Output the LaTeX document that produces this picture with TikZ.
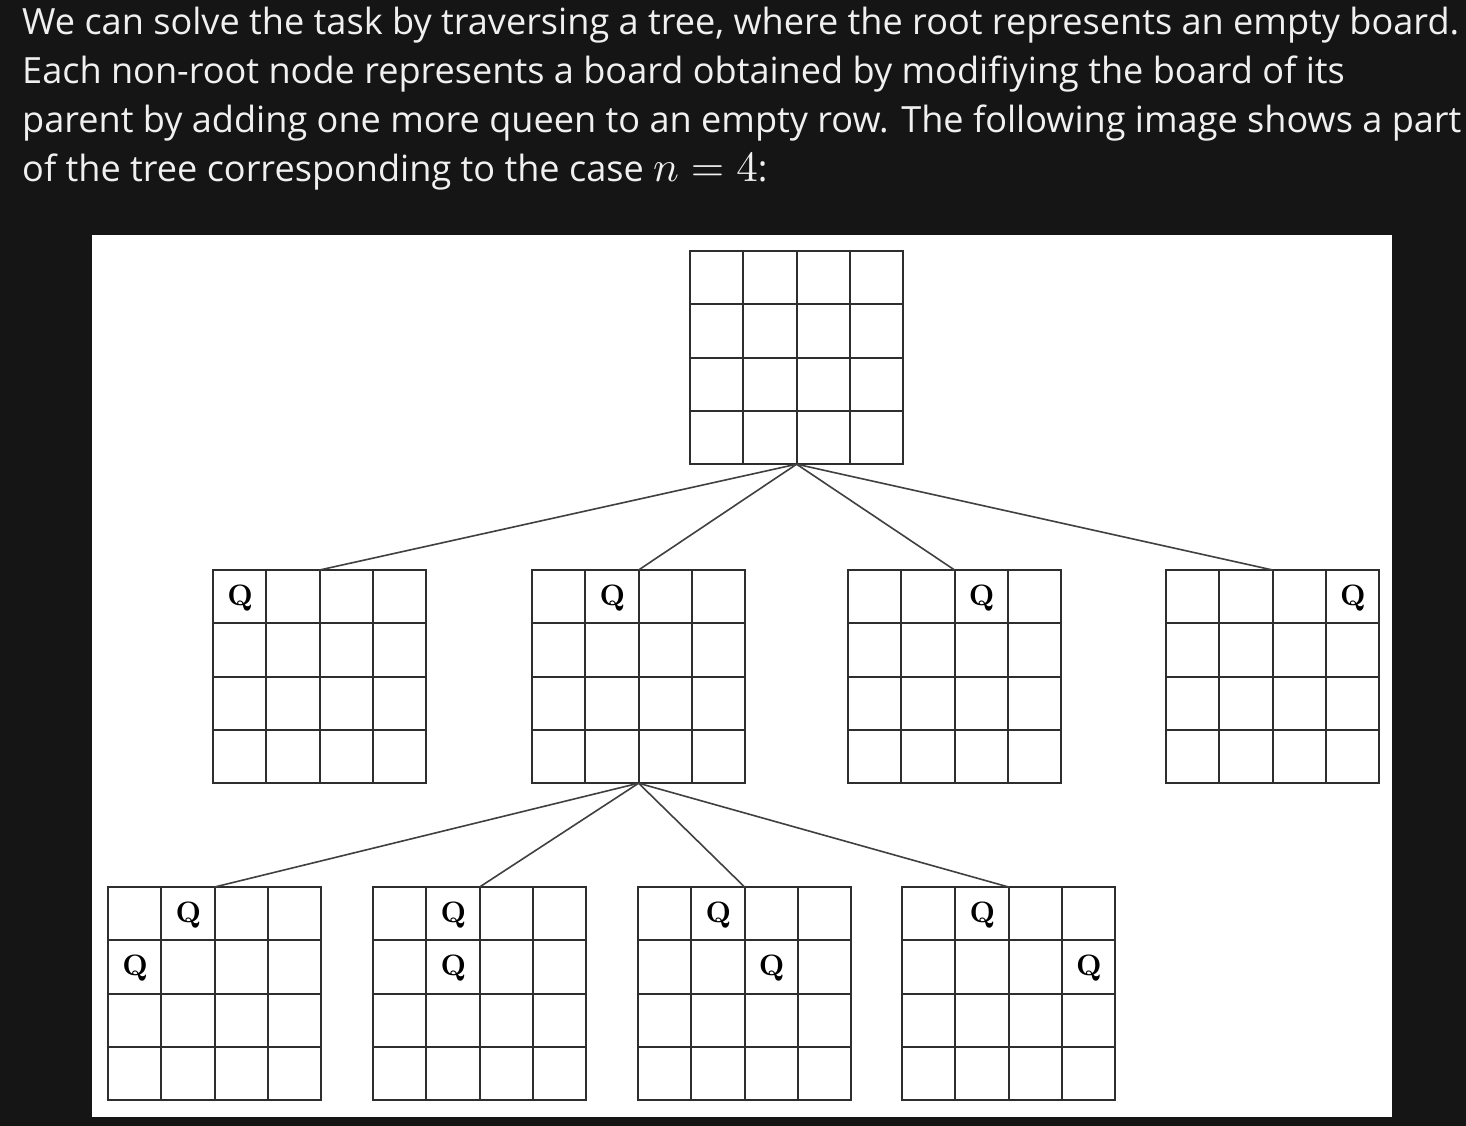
\documentclass[tikz,border=0pt]{standalone}
\usepackage[no-math]{fontspec}
\setmainfont{Open Sans}
\usetikzlibrary{calc}

\definecolor{pagebg}{HTML}{151515}
\definecolor{gridline}{HTML}{2E2E2E}
\definecolor{edgeline}{HTML}{404040}
\definecolor{txt}{HTML}{F0F0F0}

\tikzset{
 boardline/.style={gridline,line width=2pt},
 treeedge/.style={edgeline,line width=1.6pt},
 boardbox/.style={minimum size=213.2pt,inner sep=0pt,outer sep=0pt},
 queen/.style={inner sep=0pt,font=\normalsize},
 txtline/.style={txt,anchor=base west,inner sep=0pt,font=\fontsize{36.1}{36.1}\selectfont}
}

\newcommand\board[3]{%
 \node[boardbox] (#1) at (#2+106.6,#3+106.6) {};
 \draw[boardline] (#2,#3) rectangle ++(213.2,213.2);
 \foreach \i in {1,2,3}{
  \draw[boardline] (#2+\i*53.3,#3) -- ++(0,213.2);
  \draw[boardline] (#2,#3+\i*53.3) -- ++(213.2,0);
 }
}
\newcommand\queen[4]{%
 \node[queen] (#1) at ($(#2.north west)+(#4*53.3+27,#3*53.3+28)$) {\scalebox{2.95}{$\mathbf{Q}$}};
}

\begin{document}
\begin{tikzpicture}[x=1pt,y=-1pt]
 \useasboundingbox (0,0) rectangle (1466,1126);
 \fill[pagebg] (0,0) rectangle (1466,1126);
 \fill[white] (92,235) rectangle (1392,1117);

 \node[txtline] (line1) at (22,35) {We can solve the task by traversing a tree, where the root represents an empty board.};
 \node[txtline] (line2) at (22,84) {Each non-root node represents a board obtained by modifiying the board of its};
 \node[txtline] (line3) at (22,133) {parent by adding one more queen to an empty row. The following image shows a part};
 \node[txtline] (line4) at (22,182) {of the tree corresponding to the case {\normalsize\scalebox{4.3}{$n = 4$}}:};

 \board{root}{690}{251}
 \board{a1}{213}{570}
 \board{a2}{532}{570}
 \board{a3}{848}{570}
 \board{a4}{1166}{570}
 \board{b1}{108}{887}
 \board{b2}{373}{887}
 \board{b3}{638}{887}
 \board{b4}{902}{887}

 \queen{qa1}{a1}{0}{0}
 \queen{qa2}{a2}{0}{1}
 \queen{qa3}{a3}{0}{2}
 \queen{qa4}{a4}{0}{3}
 \queen{qb1x}{b1}{0}{1}
 \queen{qb1y}{b1}{1}{0}
 \queen{qb2x}{b2}{0}{1}
 \queen{qb2y}{b2}{1}{1}
 \queen{qb3x}{b3}{0}{1}
 \queen{qb3y}{b3}{1}{2}
 \queen{qb4x}{b4}{0}{1}
 \queen{qb4y}{b4}{1}{3}

 \draw[treeedge] (root.south) -- (a1.north);
 \draw[treeedge] (root.south) -- (a2.north);
 \draw[treeedge] (root.south) -- (a3.north);
 \draw[treeedge] (root.south) -- (a4.north);
 \draw[treeedge] (a2.south) -- (b1.north);
 \draw[treeedge] (a2.south) -- (b2.north);
 \draw[treeedge] (a2.south) -- (b3.north);
 \draw[treeedge] (a2.south) -- (b4.north);
\end{tikzpicture}
\end{document}
